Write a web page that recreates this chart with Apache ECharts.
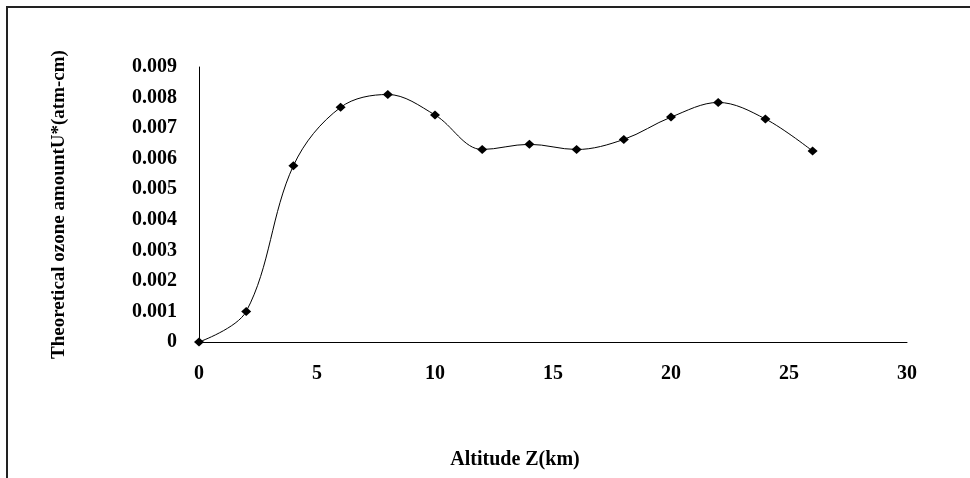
<!DOCTYPE html>
<html>
<head>
<meta charset="utf-8">
<script src="https://cdn.jsdelivr.net/npm/echarts@6/dist/echarts.min.js"></script>
<style>
  html, body { margin: 0; padding: 0; background: #fff; }
  #chart { width: 970px; height: 478px; }
</style>
</head>
<body>
<div id="chart"></div>
<script>
// altitude (km) and theoretical ozone amount U* (atm-cm)
const altitude = [0, 2, 4, 6, 8, 10, 12, 14, 16, 18, 20, 22, 24, 26];
const ozone = [0, 0.001, 0.00577, 0.00768, 0.0081, 0.00743, 0.0063, 0.00647,
               0.0063, 0.00663, 0.00736, 0.00784, 0.0073, 0.00625];

const serif = "'Liberation Serif', 'Times New Roman', serif";

const myChart = echarts.init(document.getElementById('chart'));
const option = {
    animation: false,
    backgroundColor: '#fff',
    graphic: [{
        type: 'rect',
        shape: { x: 7, y: 7, width: 1200, height: 1200 },
        style: { fill: 'none', stroke: '#222', lineWidth: 2 },
        silent: true
    }],
    grid: {
        left: 199,
        right: 63,
        top: 67,
        bottom: 136
    },
    xAxis: {
        type: 'value',
        min: 0,
        max: 30,
        interval: 5,
        name: 'Altitude Z(km)',
        nameLocation: 'middle',
        nameGap: 108,
        nameTextStyle: {
            fontFamily: serif,
            fontWeight: 'bold',
            fontSize: 20,
            color: '#000',
            padding: [0, 76, 0, 0]
        },
        axisLine: { lineStyle: { color: '#000', width: 1 } },
        axisTick: { show: false },
        splitLine: { show: false },
        axisLabel: {
            margin: 22,
            fontFamily: serif,
            fontWeight: 'bold',
            fontSize: 20,
            color: '#000'
        }
    },
    yAxis: {
        type: 'value',
        min: 0,
        max: 0.009,
        interval: 0.001,
        name: 'Theoretical ozone amountU*(atm-cm)',
        nameLocation: 'middle',
        nameRotate: 90,
        nameGap: 130,
        nameTextStyle: {
            fontFamily: serif,
            fontWeight: 'bold',
            fontSize: 19,
            color: '#000'
        },
        axisLine: { show: true, lineStyle: { color: '#000', width: 1 } },
        axisTick: { show: false },
        splitLine: { show: false },
        axisLabel: {
            margin: 22,
            fontFamily: serif,
            fontWeight: 'bold',
            fontSize: 20,
            color: '#000',
            formatter: v => v === 0 ? '0' : v.toFixed(3)
        }
    },
    series: [{
        type: 'line',
        data: altitude.map((x, i) => [x, ozone[i]]),
        smooth: 0.35,
        symbol: 'diamond',
        symbolSize: [10, 9],
        itemStyle: { color: '#000' },
        lineStyle: { color: '#000', width: 1 }
    }]
};
myChart.setOption(option);
</script>
</body>
</html>
